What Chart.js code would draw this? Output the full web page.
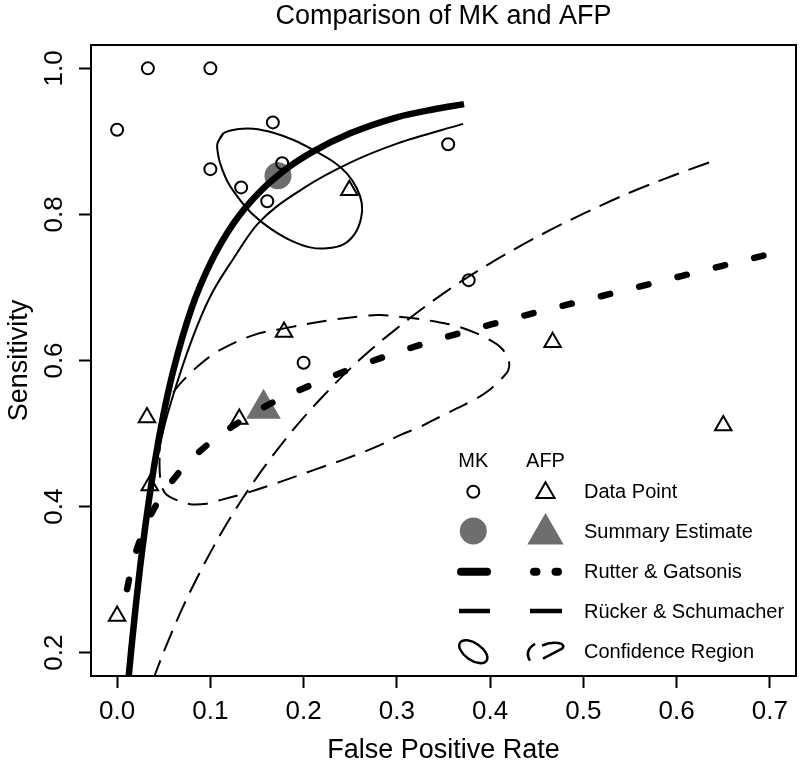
<!DOCTYPE html>
<html>
<head>
<meta charset="utf-8">
<title>Comparison of MK and AFP</title>
<script src="https://cdn.jsdelivr.net/npm/chart.js@4.4.1/dist/chart.umd.min.js"></script>
<style>
html,body{margin:0;padding:0;background:#ffffff;}
canvas{display:block;}
</style>
</head>
<body>
<canvas id="c" width="800" height="762" style="width:800px;height:762px"></canvas>
<script>
const FONT = "'Liberation Sans', Arial, Helvetica, sans-serif";

const titleText = 'Comparison of MK and AFP';
const xTitle = 'False Positive Rate';
const yTitle = 'Sensitivity';

const xTicks = [0.0, 0.1, 0.2, 0.3, 0.4, 0.5, 0.6, 0.7];
const xTickLabels = ['0.0', '0.1', '0.2', '0.3', '0.4', '0.5', '0.6', '0.7'];
const yTicks = [0.2, 0.4, 0.6, 0.8, 1.0];
const yTickLabels = ['0.2', '0.4', '0.6', '0.8', '1.0'];

// study data points
const mkFpr  = [0.000, 0.033, 0.100, 0.167, 0.100, 0.177, 0.133, 0.161, 0.355, 0.377, 0.200];
const mkSens = [0.916, 1.000, 1.000, 0.926, 0.862, 0.870, 0.837, 0.818, 0.896, 0.710, 0.597];
const afpFpr  = [0.000, 0.032, 0.035, 0.131, 0.179, 0.249, 0.467, 0.650];
const afpSens = [0.250, 0.522, 0.429, 0.520, 0.639, 0.833, 0.625, 0.511];

// summary estimates [fpr, sens]
const mkSummary  = [0.1725, 0.853];
const afpSummary = [0.157, 0.534];

// Rutter & Gatsonis curves
const mkRGx = [0.012, 0.015, 0.020, 0.025, 0.030, 0.040, 0.050, 0.060, 0.080, 0.100, 0.125, 0.150, 0.180, 0.210, 0.250, 0.300, 0.340, 0.372];
const mkRGy = [0.161, 0.202, 0.264, 0.321, 0.371, 0.458, 0.528, 0.585, 0.672, 0.733, 0.788, 0.827, 0.861, 0.886, 0.911, 0.933, 0.944, 0.951];
const afpRGx = [0.0107, 0.015, 0.020, 0.030, 0.040, 0.050, 0.070, 0.100, 0.130, 0.160, 0.200, 0.250, 0.300, 0.350, 0.400, 0.450, 0.500, 0.550, 0.600, 0.650, 0.700, 0.712];
const afpRGy = [0.287, 0.314, 0.337, 0.372, 0.398, 0.419, 0.452, 0.488, 0.515, 0.538, 0.562, 0.588, 0.611, 0.631, 0.649, 0.666, 0.682, 0.698, 0.714, 0.730, 0.746, 0.750];

// Rücker & Schumacher curves
const mkRSx = [0.0105, 0.015, 0.020, 0.030, 0.040, 0.050, 0.060, 0.080, 0.100, 0.125, 0.150, 0.200, 0.250, 0.300, 0.371];
const mkRSy = [0.167, 0.225, 0.281, 0.374, 0.447, 0.507, 0.552, 0.628, 0.688, 0.740, 0.786, 0.836, 0.871, 0.897, 0.924];
const afpRSx = [0.038, 0.050, 0.070, 0.090, 0.110, 0.135, 0.160, 0.190, 0.220, 0.260, 0.300, 0.350, 0.400, 0.450, 0.500, 0.550, 0.600, 0.641];
const afpRSy = [0.161, 0.201, 0.261, 0.313, 0.360, 0.412, 0.458, 0.507, 0.550, 0.601, 0.644, 0.692, 0.733, 0.769, 0.801, 0.830, 0.855, 0.874];

// confidence regions (closed outlines)
const mkCRx = [0.1076, 0.1140, 0.1284, 0.1462, 0.1676, 0.1891, 0.2105, 0.2319, 0.2463, 0.2570, 0.2624, 0.2616, 0.2552, 0.2427, 0.2249, 0.2070, 0.1855, 0.1641, 0.1462, 0.1319, 0.1194, 0.1105, 0.1076, 0.1076, 0.1140];
const mkCRy = [0.8974, 0.9111, 0.9166, 0.9174, 0.9119, 0.9019, 0.8882, 0.8722, 0.8563, 0.8358, 0.8152, 0.7947, 0.7741, 0.7590, 0.7536, 0.7549, 0.7649, 0.7810, 0.7992, 0.8197, 0.8426, 0.8700, 0.8882, 0.8974, 0.9111];
const afpCRx = [0.0455, 0.0470, 0.0497, 0.0600, 0.0748, 0.0920, 0.1105, 0.1462, 0.1791, 0.2284, 0.2641, 0.2820, 0.3177, 0.3428, 0.3642, 0.3856, 0.3999, 0.4106, 0.4195, 0.4195, 0.4106, 0.3999, 0.3856, 0.3642, 0.3463, 0.3249, 0.3034, 0.2820, 0.2463, 0.2105, 0.1748, 0.1391, 0.1105, 0.0962, 0.0783, 0.0641, 0.0534, 0.0480, 0.0458, 0.0455];
const afpCRy = [0.475, 0.505, 0.532, 0.556, 0.578, 0.598, 0.6145, 0.6348, 0.644, 0.6553, 0.6608, 0.6622, 0.6577, 0.653, 0.6471, 0.6371, 0.6279, 0.6188, 0.6029, 0.5868, 0.5732, 0.5604, 0.5481, 0.5344, 0.5229, 0.5092, 0.4978, 0.4841, 0.4659, 0.4499, 0.4338, 0.4188, 0.4088, 0.4040, 0.4033, 0.4088, 0.4157, 0.4270, 0.4450, 0.475];

const legendCols = ['MK', 'AFP'];
const legendLabels = ['Data Point', 'Summary Estimate', 'Rutter & Gatsonis', 'R\u00fccker & Schumacher', 'Confidence Region'];

const GRAY = '#6e6e6e';

function pts(xs, ys) { return xs.map((x, i) => ({ x: x, y: ys[i] })); }

const lineBase = { showLine: true, pointRadius: 0, pointHoverRadius: 0, fill: false, borderColor: '#000', backgroundColor: '#000', clip: 0 };

const datasets = [
  { label: 'MK data', data: pts(mkFpr, mkSens), showLine: false, pointStyle: 'circle', pointRadius: 6, pointHoverRadius: 6,
    pointBorderWidth: 2, pointBorderColor: '#000', pointBackgroundColor: 'rgba(0,0,0,0)', clip: false },
  { label: 'AFP data', data: pts(afpFpr, afpSens), showLine: false, pointStyle: 'triangle', pointRadius: 9.5, pointHoverRadius: 9.5,
    pointBorderWidth: 2, pointBorderColor: '#000', pointBackgroundColor: 'rgba(0,0,0,0)', clip: false },
  Object.assign({}, lineBase, { label: 'MK RG', data: pts(mkRGx, mkRGy), borderWidth: 6.5, cubicInterpolationMode: 'monotone' }),
  Object.assign({}, lineBase, { label: 'MK RS', data: pts(mkRSx, mkRSy), borderWidth: 2, cubicInterpolationMode: 'monotone' }),
  Object.assign({}, lineBase, { label: 'AFP RG', data: pts(afpRGx, afpRGy), borderWidth: 6.5, borderDash: [9.5, 30], borderCapStyle: 'round', cubicInterpolationMode: 'monotone' }),
  Object.assign({}, lineBase, { label: 'AFP RS', data: pts(afpRSx, afpRSy), borderWidth: 2, borderDash: [22, 10], cubicInterpolationMode: 'monotone' }),
  Object.assign({}, lineBase, { label: 'MK CR', data: pts(mkCRx, mkCRy), borderWidth: 2, tension: 0.35 }),
  Object.assign({}, lineBase, { label: 'AFP CR', data: pts(afpCRx, afpCRy), borderWidth: 2, borderDash: [20, 11], tension: 0.35 }),
  { label: 'MK summary', data: [{ x: mkSummary[0], y: mkSummary[1] }], showLine: false, pointStyle: 'circle', pointRadius: 13.5, pointHoverRadius: 13.5,
    pointBorderWidth: 0, pointBackgroundColor: GRAY, pointBorderColor: GRAY, clip: false },
  { label: 'AFP summary', data: [{ x: afpSummary[0], y: afpSummary[1] }], showLine: false, pointStyle: 'triangle', pointRadius: 20, pointHoverRadius: 20,
    pointBorderWidth: 0, pointBackgroundColor: GRAY, pointBorderColor: GRAY, clip: false }
];

function tri(ctx, x, y, r) {
  ctx.beginPath();
  ctx.moveTo(x, y - r);
  ctx.lineTo(x + r * Math.sin(2 * Math.PI / 3), y - r * Math.cos(2 * Math.PI / 3));
  ctx.lineTo(x + r * Math.sin(4 * Math.PI / 3), y - r * Math.cos(4 * Math.PI / 3));
  ctx.closePath();
}

const decor = {
  id: 'decor',
  afterDraw(chart) {
    const ctx = chart.ctx;
    const a = chart.chartArea;
    ctx.save();
    // frame
    ctx.strokeStyle = '#000';
    ctx.lineWidth = 2;
    ctx.setLineDash([]);
    ctx.strokeRect(a.left, a.top, a.right - a.left, a.bottom - a.top);
    // titles
    ctx.fillStyle = '#000';
    ctx.font = '27px ' + FONT;
    ctx.textAlign = 'center';
    ctx.textBaseline = 'alphabetic';
    const cx = (a.left + a.right) / 2;
    ctx.fillText(titleText, cx, 24);
    ctx.fillText(xTitle, cx, 758);
    ctx.save();
    ctx.translate(27, (a.top + a.bottom) / 2);
    ctx.rotate(-Math.PI / 2);
    ctx.fillText(yTitle, 0, 0);
    ctx.restore();

    // legend
    const c1 = 473.3, c2 = 545.5, tx = 584;
    const rows = [491.7, 531, 571.7, 611, 651.7];
    ctx.font = '20px ' + FONT;
    ctx.textBaseline = 'middle';
    ctx.textAlign = 'center';
    ctx.fillText(legendCols[0], c1, 461);
    ctx.fillText(legendCols[1], c2, 461);
    ctx.textAlign = 'left';
    legendLabels.forEach((t, i) => ctx.fillText(t, tx, rows[i] + 1));

    // row 0: open markers
    ctx.lineWidth = 2;
    ctx.beginPath(); ctx.arc(c1, rows[0], 6, 0, Math.PI * 2); ctx.stroke();
    tri(ctx, c2, rows[0] + 1, 10.5); ctx.stroke();
    // row 1: filled summary markers
    ctx.fillStyle = GRAY;
    ctx.beginPath(); ctx.arc(c1, rows[1], 13.5, 0, Math.PI * 2); ctx.fill();
    tri(ctx, c2, rows[1] + 3, 21); ctx.fill();
    // row 2: thick lines
    ctx.lineCap = 'round';
    ctx.lineWidth = 8;
    ctx.beginPath(); ctx.moveTo(461, rows[2]); ctx.lineTo(487, rows[2]); ctx.stroke();
    ctx.beginPath(); ctx.moveTo(534, rows[2]); ctx.lineTo(536.5, rows[2]); ctx.stroke();
    ctx.beginPath(); ctx.moveTo(555.5, rows[2]); ctx.lineTo(558, rows[2]); ctx.stroke();
    // row 3: thin lines
    ctx.lineCap = 'butt';
    ctx.lineWidth = 4.5;
    ctx.beginPath(); ctx.moveTo(459, rows[3]); ctx.lineTo(490, rows[3]); ctx.stroke();
    ctx.beginPath(); ctx.moveTo(530, rows[3]); ctx.lineTo(562, rows[3]); ctx.stroke();
    // row 4: region icons
    ctx.lineWidth = 2.5;
    ctx.beginPath(); ctx.ellipse(c1, rows[4], 16, 8.5, 0.6, 0, Math.PI * 2); ctx.stroke();
    ctx.beginPath();
    ctx.moveTo(535, rows[4] - 8);
    ctx.quadraticCurveTo(524, rows[4] - 1, 530, rows[4] + 9);
    ctx.stroke();
    ctx.beginPath();
    ctx.moveTo(542, rows[4] - 6);
    ctx.bezierCurveTo(552, rows[4] - 11, 568, rows[4] - 9, 562, rows[4] - 3);
    ctx.lineTo(543, rows[4] + 7);
    ctx.stroke();
    ctx.restore();
  }
};

new Chart(document.getElementById('c'), {
  type: 'scatter',
  data: { datasets: datasets },
  options: {
    responsive: false,
    animation: false,
    devicePixelRatio: 1,
    events: [],
    layout: { autoPadding: false, padding: { top: 45, right: 4, bottom: 0, left: 0 } },
    plugins: { legend: { display: false }, tooltip: { enabled: false }, title: { display: false } },
    scales: {
      x: {
        type: 'linear', position: 'bottom', min: -0.028, max: 0.728,
        afterBuildTicks: (s) => { s.ticks = xTicks.map(v => ({ value: v })); },
        afterFit: (s) => { s.height = 86; s.paddingLeft = 0; s.paddingRight = 0; },
        grid: { display: true, drawOnChartArea: false, drawTicks: true, tickLength: 12, tickWidth: 2, tickColor: '#000', color: '#000' },
        border: { display: false },
        ticks: { autoSkip: false, minRotation: 0, maxRotation: 0, padding: 8, color: '#000',
                 font: { family: FONT, size: 26 }, callback: (v, i) => xTickLabels[i] }
      },
      y: {
        type: 'linear', position: 'left', min: 0.168, max: 1.032,
        afterBuildTicks: (s) => { s.ticks = yTicks.map(v => ({ value: v })); },
        afterFit: (s) => { s.width = 91; s.paddingTop = 0; s.paddingBottom = 0; },
        grid: { display: true, drawOnChartArea: false, drawTicks: true, tickLength: 12, tickWidth: 2, tickColor: '#000', color: '#000' },
        border: { display: false },
        ticks: { autoSkip: false, minRotation: 90, maxRotation: 90, crossAlign: 'center', padding: 6, color: '#000',
                 font: { family: FONT, size: 26 }, callback: (v, i) => yTickLabels[i] }
      }
    }
  },
  plugins: [decor]
});
</script>
</body>
</html>
